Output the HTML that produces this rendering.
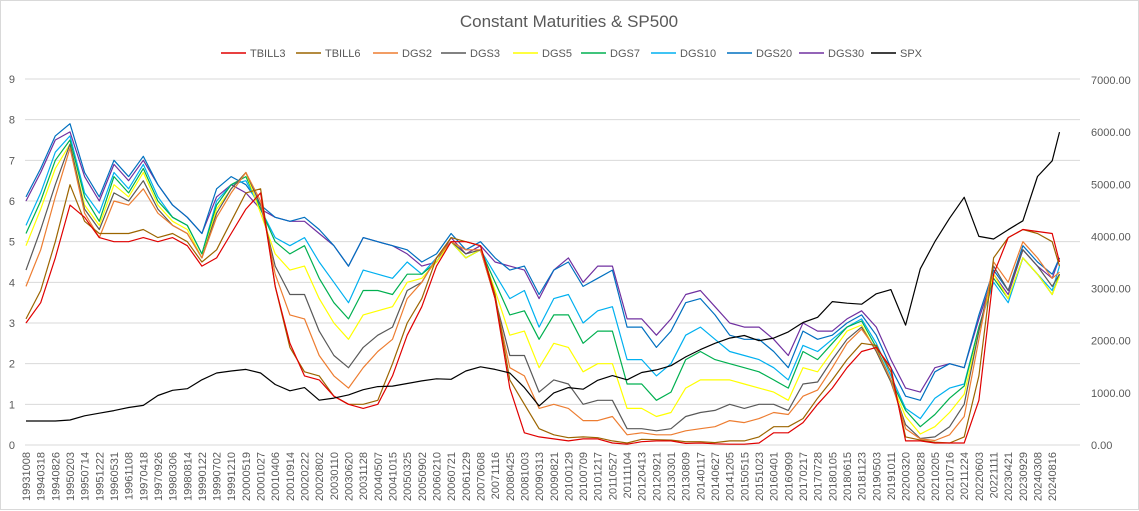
<!DOCTYPE html>
<html><head><meta charset="utf-8">
<style>
html,body{margin:0;padding:0;background:#fff;}
svg{display:block;font-family:"Liberation Sans",Arial,sans-serif;}
</style></head>
<body>
<svg id="chart" width="1139" height="511" viewBox="0 0 1139 511" xmlns="http://www.w3.org/2000/svg">
<rect x="0.5" y="0.5" width="1138" height="509" fill="#fff" stroke="#d9d9d9"/>
<text x="569" y="27" text-anchor="middle" font-size="17" fill="#595959">Constant Maturities &amp; SP500</text>
<g id="grid"></g><g id="yl"></g><g id="yr"></g><g id="xl"></g><g id="series"></g><g id="legend"></g>
</svg>
<script>
const xLabels=["19931008","19940318","19940826","19950203","19950714","19951222","19960531","19961108","19970418","19970926","19980306","19980814","19990122","19990702","19991210","20000519","20001027","20010406","20010914","20020222","20020802","20030110","20030620","20031128","20040507","20041015","20050325","20050902","20060210","20060721","20061229","20070608","20071116","20080425","20081003","20090313","20090821","20100129","20100709","20101217","20110527","20111104","20120413","20120921","20130301","20130809","20140117","20140627","20141205","20150515","20151023","20160401","20160909","20170217","20170728","20180105","20180615","20181123","20190503","20191011","20200320","20200828","20210205","20210716","20211224","20220603","20221111","20230421","20230929","20240308","20240816"];
const leftTicks=[0,1,2,3,4,5,6,7,8,9];
const rightTicks=["0.00","1000.00","2000.00","3000.00","4000.00","5000.00","6000.00","7000.00"];
// point positions: index in label-steps (last point = end of data)
const pointIdx=[0,1,2,3,4,5,6,7,8,9,10,11,12,13,14,15,16,17,18,19,20,21,22,23,24,25,26,27,28,29,30,31,32,33,34,35,36,37,38,39,40,41,42,43,44,45,46,47,48,49,50,51,52,53,54,55,56,57,58,59,60,61,62,63,64,65,66,67,68,69,70,70.5];
const TBILL3=[3.0,3.5,4.6,5.9,5.6,5.1,5.0,5.0,5.1,5.0,5.1,4.9,4.4,4.6,5.2,5.8,6.2,3.9,2.5,1.7,1.6,1.2,1.0,0.9,1.0,1.7,2.7,3.4,4.4,5.0,5.0,4.9,3.6,1.4,0.3,0.2,0.15,0.1,0.15,0.15,0.05,0.02,0.08,0.1,0.1,0.04,0.05,0.03,0.02,0.02,0.05,0.3,0.3,0.55,1.0,1.4,1.9,2.3,2.4,1.9,0.1,0.1,0.05,0.05,0.05,1.1,4.2,5.1,5.3,5.25,5.2,4.5];
const TBILL6=[3.1,3.8,5.0,6.4,5.5,5.2,5.2,5.2,5.3,5.1,5.2,5.0,4.5,4.8,5.5,6.2,6.3,3.9,2.4,1.8,1.7,1.2,1.0,1.0,1.1,2.0,3.0,3.6,4.6,5.1,5.0,4.9,3.7,1.6,1.0,0.4,0.25,0.18,0.2,0.18,0.1,0.05,0.14,0.13,0.12,0.08,0.08,0.06,0.1,0.1,0.2,0.45,0.45,0.65,1.15,1.6,2.1,2.5,2.45,1.8,0.2,0.12,0.07,0.05,0.2,1.7,4.6,5.1,5.3,5.2,5.0,4.4];
const DGS2=[3.9,4.8,6.1,7.3,5.7,5.1,6.0,5.9,6.3,5.7,5.4,5.2,4.6,5.6,6.2,6.7,6.0,4.2,3.2,3.1,2.2,1.7,1.4,1.9,2.3,2.6,3.6,4.0,4.6,5.0,4.8,4.8,3.6,1.9,1.7,0.9,1.0,0.9,0.6,0.6,0.7,0.25,0.3,0.25,0.25,0.35,0.4,0.45,0.6,0.55,0.65,0.8,0.75,1.2,1.35,1.9,2.5,2.85,2.35,1.6,0.4,0.15,0.11,0.25,0.7,2.6,4.5,4.0,5.0,4.6,4.1,4.25];
const DGS3=[4.3,5.3,6.4,7.4,5.8,5.3,6.2,6.0,6.5,5.8,5.4,5.2,4.6,5.7,6.3,6.7,5.9,4.4,3.7,3.7,2.8,2.2,1.9,2.4,2.7,2.9,3.8,4.0,4.6,5.0,4.7,4.8,3.6,2.2,2.2,1.3,1.6,1.5,1.0,1.1,1.1,0.4,0.4,0.35,0.4,0.7,0.8,0.85,1.0,0.9,1.0,1.0,0.85,1.5,1.55,2.1,2.6,2.9,2.3,1.55,0.5,0.16,0.2,0.45,1.0,2.8,4.4,3.8,4.8,4.4,3.9,4.2];
const DGS5=[4.9,5.8,6.8,7.4,5.9,5.4,6.4,6.1,6.7,5.9,5.5,5.3,4.6,5.8,6.3,6.7,5.7,4.7,4.3,4.4,3.6,3.0,2.6,3.2,3.3,3.4,4.0,4.1,4.5,5.0,4.6,4.8,3.8,2.7,2.8,1.9,2.5,2.4,1.8,2.0,2.0,0.9,0.9,0.7,0.8,1.4,1.6,1.6,1.6,1.5,1.4,1.3,1.1,1.9,1.8,2.3,2.8,2.95,2.3,1.55,0.7,0.27,0.45,0.8,1.25,2.8,4.2,3.6,4.6,4.2,3.7,4.15];
const DGS7=[5.2,6.0,7.0,7.5,6.1,5.5,6.6,6.2,6.8,6.0,5.6,5.4,4.7,5.9,6.4,6.6,5.8,5.0,4.7,4.9,4.1,3.5,3.1,3.8,3.8,3.7,4.2,4.2,4.5,5.0,4.6,4.8,4.0,3.2,3.3,2.6,3.2,3.2,2.5,2.8,2.8,1.5,1.5,1.1,1.3,2.1,2.3,2.1,2.0,1.9,1.8,1.6,1.4,2.3,2.1,2.5,2.9,3.05,2.4,1.6,0.85,0.45,0.75,1.15,1.45,2.9,4.1,3.6,4.6,4.2,3.7,4.2];
const DGS10=[5.4,6.2,7.2,7.6,6.2,5.7,6.7,6.3,6.9,6.1,5.6,5.4,4.7,6.0,6.4,6.5,5.8,5.1,4.9,5.1,4.5,4.0,3.5,4.3,4.2,4.1,4.5,4.2,4.6,5.0,4.6,4.8,4.2,3.6,3.8,2.9,3.6,3.7,3.0,3.3,3.4,2.1,2.1,1.7,2.0,2.7,2.9,2.6,2.3,2.2,2.1,1.9,1.6,2.45,2.3,2.6,2.9,3.1,2.5,1.7,0.9,0.65,1.15,1.4,1.5,2.9,4.0,3.5,4.6,4.2,3.8,4.4];
const DGS20=[6.1,6.8,7.6,7.9,6.7,6.1,7.0,6.6,7.1,6.4,5.9,5.6,5.2,6.3,6.6,6.4,5.9,5.6,5.5,5.6,5.3,4.9,4.4,5.1,5.0,4.9,4.8,4.5,4.7,5.2,4.8,5.0,4.6,4.3,4.4,3.7,4.3,4.5,3.9,4.1,4.3,2.9,2.9,2.4,2.8,3.5,3.6,3.2,2.7,2.6,2.6,2.3,1.9,2.8,2.6,2.7,3.0,3.2,2.7,1.9,1.2,1.1,1.8,2.0,1.9,3.2,4.3,3.8,4.9,4.5,4.2,4.6];
const DGS30=[6.0,6.7,7.5,7.7,6.6,6.0,6.9,6.5,7.0,6.4,5.9,5.6,5.2,6.1,6.4,6.2,5.8,5.6,5.5,5.5,5.2,4.9,4.4,5.1,5.0,4.9,4.7,4.4,4.5,5.1,4.7,4.9,4.5,4.4,4.3,3.6,4.3,4.6,4.0,4.4,4.4,3.1,3.1,2.7,3.1,3.7,3.8,3.4,3.0,2.9,2.9,2.6,2.2,3.0,2.8,2.8,3.1,3.3,2.9,2.1,1.4,1.3,1.9,2.0,1.9,3.1,4.2,3.7,4.8,4.4,4.1,4.6];
const SPX=[460,460,460,480,560,610,660,720,760,950,1050,1080,1250,1380,1420,1450,1380,1160,1040,1100,860,900,960,1060,1120,1130,1180,1230,1270,1260,1420,1500,1450,1380,1100,750,1000,1100,1070,1240,1330,1250,1390,1440,1520,1690,1830,1950,2050,2100,2000,2050,2170,2350,2450,2750,2720,2700,2900,2980,2300,3380,3900,4350,4750,4000,3950,4130,4300,5150,5450,6000];

const NS="http://www.w3.org/2000/svg";
const X0=26, STEP=14.66, Y0=445, YTOP=79, RMAX=7000;
function xPos(i){return X0+i*STEP;}
function yL(v){return Y0-(v/9)*(Y0-YTOP);}
function yR(v){return Y0-(v/RMAX)*(Y0-80);}
function mk(tag,attrs,parent){const e=document.createElementNS(NS,tag);for(const k in attrs)e.setAttribute(k,attrs[k]);parent.appendChild(e);return e;}

const grid=document.getElementById('grid');
leftTicks.forEach(t=>{
  const l=mk('line',{x1:25,x2:1080,y1:yL(t),y2:yL(t),stroke:'#d9d9d9','stroke-width':1},grid);
  
  
  const tx=mk('text',{x:15,y:yL(t)+4,'text-anchor':'end','font-size':11,fill:'#595959'},document.getElementById('yl'));
  tx.textContent=t;
  
  
});
rightTicks.forEach((t,i)=>{
  const tx=mk('text',{x:1091,y:yR(parseFloat(t))+4,'font-size':11,fill:'#595959'},document.getElementById('yr'));
  tx.textContent=t;
  
  
});
xLabels.forEach((lab,i)=>{
  const x=xPos(i)+4;
  const tx=mk('text',{x:x,y:452,transform:'rotate(-90 '+x+' 452)','text-anchor':'end','font-size':11,fill:'#595959'},document.getElementById('xl'));
  tx.textContent=lab;
  
  
});

const seriesDefs=[["TBILL3",TBILL3,"#e00000"],["TBILL6",TBILL6,"#9c6500"],["DGS2",DGS2,"#ed7d31"],["DGS3",DGS3,"#595959"],["DGS5",DGS5,"#ffff00"],["DGS7",DGS7,"#00b050"],["DGS10",DGS10,"#00b0f0"],["DGS20",DGS20,"#0070c0"],["DGS30",DGS30,"#7030a0"],["SPX",SPX,"#000000"]];
const sg=document.getElementById('series');
const drawOrder=[8,7,6,5,4,3,2,1,0,9];
drawOrder.forEach(k=>{
  const [name,vals,col]=seriesDefs[k];
  const fy=name==="SPX"?yR:yL;
  const d=vals.map((v,i)=>(i?'L':'M')+xPos(pointIdx[i]).toFixed(1)+' '+fy(v).toFixed(1)).join(' ');
  const p=mk('path',{d:d,fill:'none',stroke:col,'stroke-width':1.2,'stroke-linejoin':'round'},sg);
  
  
});

const legendText=[250,325,402,470,542,610,680,756,828,900];
const lg=document.getElementById('legend');
seriesDefs.forEach((s,i)=>{
  const g=mk('g',{},lg);
  
  
  mk('line',{x1:legendText[i]-29,x2:legendText[i]-4,y1:53,y2:53,stroke:s[2],'stroke-width':1.5},g);
  const t=mk('text',{x:legendText[i],y:57,'font-size':11,fill:'#595959'},g);
  t.textContent=s[0];
});
</script>
</body></html>
